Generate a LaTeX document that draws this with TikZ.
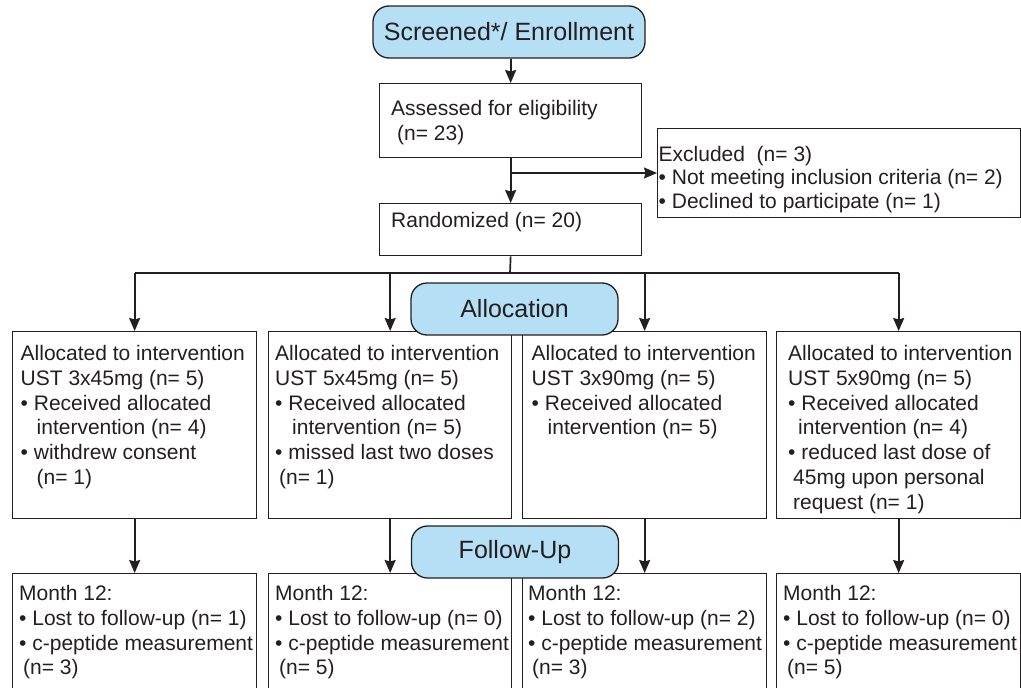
\documentclass[tikz,border=0pt]{standalone}
\usepackage{fontspec}
\setmainfont{Liberation Sans}
\usetikzlibrary{arrows.meta}
\definecolor{hdrblue}{RGB}{180,223,245}
\definecolor{ink}{RGB}{35,31,32}
\begin{document}
\begin{tikzpicture}[x=1pt,y=-1pt,
  box/.style={draw=ink, line width=1.3pt, inner sep=0pt, anchor=north west},
  hdr/.style={draw=ink, fill=hdrblue, rounded corners=16pt, line width=1.3pt, inner sep=0pt,
    text=ink, font=\fontsize{25}{30}\selectfont},
  txt/.style={anchor=north west, inner sep=0pt, align=left, text=ink,
    font=\fontsize{21}{24.8}\selectfont},
  arr/.style={draw=ink, line width=1.7pt, -{Stealth[length=13pt,width=11pt,inset=1.5pt]}},
  ln/.style={draw=ink, line width=1.7pt}]
\useasboundingbox (0,0) rectangle (1021,688);

% boxes
\node[box, minimum width=262pt, minimum height=74pt] (A) at (379,83) {};
\node[box, minimum width=363pt, minimum height=89pt] (E) at (657,128) {};
\node[box, minimum width=262pt, minimum height=52pt] (R) at (379,203) {};

\node[box, minimum width=244pt, minimum height=187pt] (a1) at (12,331) {};
\node[box, minimum width=243pt, minimum height=187pt] (a2) at (268,331) {};
\node[box, minimum width=244pt, minimum height=187pt] (a3) at (522,331) {};
\node[box, minimum width=244pt, minimum height=187pt] (a4) at (776,331) {};

\node[box, minimum width=244pt, minimum height=130pt] (m1) at (12,573) {};
\node[box, minimum width=243pt, minimum height=130pt] (m2) at (268,573) {};
\node[box, minimum width=244pt, minimum height=130pt] (m3) at (522,573) {};
\node[box, minimum width=244pt, minimum height=130pt] (m4) at (776,573) {};

% texts
\node[txt] (tA) at (391,100) {Assessed for eligibility\\\hspace*{6pt}(n= 23)};
\node[txt, font=\fontsize{21}{23.5}\selectfont] (tE) at (658.5,146)
  {Excluded\ \ (n= 3)\\• Not meeting inclusion criteria (n= 2)\\• Declined to participate (n= 1)};
\node[txt] (tR) at (391,212) {Randomized (n= 20)};

\node[txt] (ta1) at (20.5,345) {Allocated to intervention\\UST 3x45mg (n= 5)\\• Received allocated\\\hspace*{16pt}intervention (n= 4)\\• withdrew consent\\\hspace*{16pt}(n= 1)};
\node[txt] (ta2) at (275,345) {Allocated to intervention\\UST 5x45mg (n= 5)\\• Received allocated\\\hspace*{17pt}intervention (n= 5)\\• missed last two doses\\\hspace*{4pt}(n= 1)};
\node[txt] (ta3) at (531.5,345) {Allocated to intervention\\UST 3x90mg (n= 5)\\• Received allocated\\\hspace*{16pt}intervention (n= 5)};
\node[txt] (ta4) at (788,345) {Allocated to intervention\\UST 5x90mg (n= 5)\\• Received allocated\\\hspace*{10pt}intervention (n= 4)\\• reduced last dose of\\\hspace*{5pt}45mg upon personal\\\hspace*{5pt}request (n= 1)};

\node[txt] (tm1) at (19,585) {Month 12:\\• Lost to follow-up (n= 1)\\• c-peptide measurement\\\hspace*{4pt}(n= 3)};
\node[txt] (tm2) at (275,585) {Month 12:\\• Lost to follow-up (n= 0)\\• c-peptide measurement\\\hspace*{4pt}(n= 5)};
\node[txt] (tm3) at (528,585) {Month 12:\\• Lost to follow-up (n= 2)\\• c-peptide measurement\\\hspace*{4pt}(n= 3)};
\node[txt] (tm4) at (783,585) {Month 12:\\• Lost to follow-up (n= 0)\\• c-peptide measurement\\\hspace*{4pt}(n= 5)};

% headers
\node[hdr, minimum width=272pt, minimum height=52pt] (T) at (509,32) {Screened*/ Enrollment};
\node[hdr, minimum width=207pt, minimum height=52pt] (AL) at (514.5,309) {Allocation};
\node[hdr, minimum width=207pt, minimum height=52pt] (FU) at (515,552) {Follow-Up};

% connectors
\draw[arr] (T.south -| A.north) -- (A.north);
\draw[arr] (A.south) -- (R.north);
\coordinate (br) at (510,173);
\draw[arr] (br) -- (br -| E.west);
\coordinate (split) at (510,273);
\draw[ln] (R.south) -- (split);
\draw[ln] (a1.north |- split) -- (a4.north |- split);
\foreach \i in {1,2,3,4} {
  \draw[arr] (a\i.north |- split) -- (a\i.north);
  \draw[arr] (a\i.south) -- (m\i.north);
}
\end{tikzpicture}
\end{document}
